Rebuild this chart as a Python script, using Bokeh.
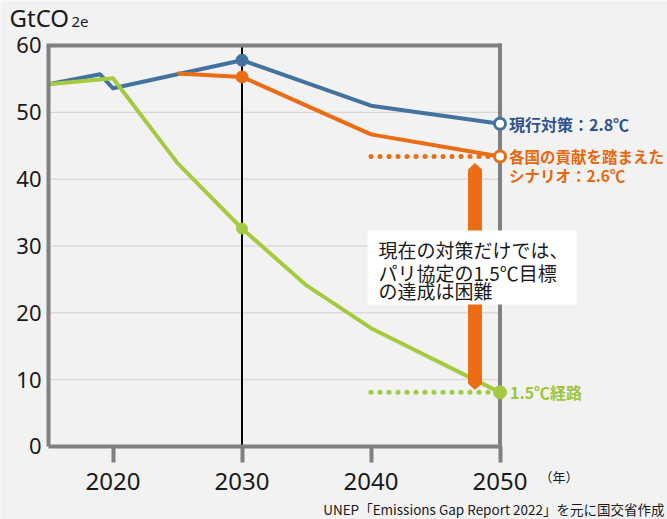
from bokeh.plotting import figure
from bokeh.models import Range1d, FixedTicker
from bokeh.core.properties import value
from bokeh.embed import file_html
from bokeh.resources import INLINE

# ---- data (GtCO2e) ----
years_current = [2015, 2019, 2020, 2030, 2040, 2050]
current_policy = [54.2, 55.7, 53.6, 57.8, 51.0, 48.3]
years_ndc = [2025, 2030, 2040, 2050]
ndc_scenario = [55.8, 55.3, 46.7, 43.4]
years_15 = [2015, 2020, 2025, 2030, 2035, 2040, 2050]
path_15 = [54.2, 55.1, 42.4, 32.6, 24.1, 17.7, 8.1]
x_ticks = [2020, 2030, 2040, 2050]
y_ticks = [0, 10, 20, 30, 40, 50, 60]

label_current = "現行対策：2.8℃"
label_ndc = ["各国の貢献を踏まえた", "シナリオ：2.6℃"]
label_15 = "1.5℃経路"
box_lines = ["現在の対策だけでは、", "パリ協定の1.5℃目標", "の達成は困難"]
source_text = "UNEP「Emissions Gap Report 2022」を元に国交省作成"

# ---- styles ----
BLUE = "#43729F"
BLUE_TXT = "#2F5290"
ORANGE = "#EC6C14"
ORANGE_TXT = "#E9680F"
GREEN = "#A4CA42"
GREEN_TXT = "#9DC53A"
GRAY = "#808080"
BG = "#F2F2F2"
INK = "#1a1a1a"
JP = "Noto Sans CJK JP"

X0, X1 = 2015, 2050
Y0, Y1 = 0, 60

p = figure(width=667, height=519,
           x_range=Range1d(2011.279, 2062.984), y_range=Range1d(-10.923, 66.733),
           output_backend="svg", toolbar_location=None,
           min_border_left=0, min_border_right=0, min_border_top=0, min_border_bottom=0)
p.background_fill_color = BG
p.border_fill_color = BG
p.outline_line_color = None
p.xgrid.visible = False
p.ygrid.visible = False

# axes drawn at fixed data locations inside the canvas
p.xaxis.fixed_location = 0
p.xaxis.bounds = (X0, X1)
p.xaxis.ticker = FixedTicker(ticks=x_ticks)
p.xaxis.axis_line_color = GRAY
p.xaxis.axis_line_width = 4
p.xaxis.major_tick_out = 16
p.xaxis.major_tick_in = 0
p.xaxis.major_tick_line_width = 4
p.xaxis.major_tick_line_color = GRAY
p.xaxis.minor_tick_out = 0
p.xaxis.minor_tick_in = 0
p.xaxis.major_label_text_font = "Noto Sans"
p.xaxis.major_label_text_font_size = "24px"
p.xaxis.major_label_text_color = INK
p.xaxis.major_label_standoff = 11

p.yaxis.fixed_location = X0
p.yaxis.bounds = (Y0, Y1)
p.yaxis.ticker = FixedTicker(ticks=y_ticks)
p.yaxis.axis_line_color = GRAY
p.yaxis.axis_line_width = 4
p.yaxis.major_tick_out = 0
p.yaxis.major_tick_in = 0
p.yaxis.minor_tick_out = 0
p.yaxis.minor_tick_in = 0
p.yaxis.major_label_text_font = "Noto Sans"
p.yaxis.major_label_text_font_size = "22px"
p.yaxis.major_label_text_color = INK
p.yaxis.major_label_standoff = 7

# gridlines (only inside the chart box)
gy = y_ticks[1:-1]
p.segment(x0=[X0] * len(gy), x1=[X1] * len(gy), y0=gy, y1=gy, line_color="#D0D0D0", line_width=1)

# 2030 vertical line
p.segment(x0=[2030], x1=[2030], y0=[Y0], y1=[Y1], line_color="black", line_width=2)

# top and right border
p.segment(x0=[X0, X1], x1=[X1, X1], y0=[Y1, Y0], y1=[Y1, Y1], line_color=GRAY, line_width=4,
          line_cap="square")

# dotted reference lines
p.line([2040, 2049.3], [ndc_scenario[-1]] * 2, line_color=ORANGE, line_width=5,
       line_dash="0 9", line_cap="round")
p.line([2040, 2049.3], [path_15[-1]] * 2, line_color=GREEN, line_width=5,
       line_dash="0 9", line_cap="round")

# series
p.line(years_current, current_policy, line_color=BLUE, line_width=4, line_join="round")
p.line(years_ndc, ndc_scenario, line_color=ORANGE, line_width=4, line_join="round")
p.line(years_15, path_15, line_color=GREEN, line_width=4, line_join="round")

# gap arrow
ax, hw = 2048.06, 0.5
a_top, a_top_sh, a_bot_sh, a_bot = 42.35, 41.45, 9.4, 8.55
p.patch([ax - hw, ax, ax + hw, ax + hw, ax, ax - hw],
        [a_top_sh, a_top, a_top_sh, a_bot_sh, a_bot, a_bot_sh],
        fill_color=ORANGE, line_color=ORANGE, line_width=1)

# markers
i30c = years_current.index(2030)
i30n = years_ndc.index(2030)
i30g = years_15.index(2030)
p.scatter([2030], [current_policy[i30c]], size=12, fill_color=BLUE, line_color=BLUE)
p.scatter([2030], [ndc_scenario[i30n]], size=12, fill_color=ORANGE, line_color=ORANGE)
p.scatter([2030], [path_15[i30g]], size=11, fill_color=GREEN, line_color=GREEN)
p.scatter([2050], [current_policy[-1]], size=11, fill_color="white", line_color=BLUE, line_width=3)
p.scatter([2050], [ndc_scenario[-1]], size=11, fill_color="white", line_color=ORANGE, line_width=3)
p.scatter([2050], [path_15[-1]], size=13, fill_color=GREEN, line_color=GREEN)

# text box
p.quad(left=[2039.73], right=[2055.93], top=[32.32], bottom=[21.25],
       fill_color="white", line_color=None)
p.text(x=[2040.58] * 3, y=[29.48, 26.04, 23.3], text=box_lines,
       text_font=value(JP), text_font_size="19px", text_color=INK,
       text_baseline="middle", text_align="left")

# series labels
p.text(x=[2050], y=[current_policy[-1]], text=[label_current], x_offset=9,
       text_font=value(JP), text_font_style="bold", text_font_size="16px",
       text_color=BLUE_TXT, text_baseline="middle")
p.text(x=[2050, 2050], y=[ndc_scenario[-1], ndc_scenario[-1] - 2.85], text=label_ndc, x_offset=9,
       text_font=value(JP), text_font_style="bold", text_font_size="15.5px",
       text_color=ORANGE_TXT, text_baseline="middle")
p.text(x=[2050], y=[path_15[-1]], text=[label_15], x_offset=10,
       text_font=value(JP), text_font_style="bold", text_font_size="16px",
       text_color=GREEN_TXT, text_baseline="middle")

# unit labels and source
p.text(x=[2011.98], y=[64.19], text=["GtCO"], text_font=value("Noto Sans"),
       text_font_size="24px", text_color=INK, text_baseline="middle")
p.text(x=[2016.78], y=[63.5], text=["2e"], text_font=value("Noto Sans"),
       text_font_size="15px", text_color=INK, text_baseline="middle")
p.text(x=[2053.06], y=[-4.49], text=["（年）"], text_font=value(JP),
       text_font_size="13px", text_color=INK, text_baseline="middle")
p.text(x=[2062.75], y=[-9.28], text=[source_text], text_font=value(JP),
       text_font_size="13.5px", text_color=INK, text_baseline="middle", text_align="right")

open("out.html", "w").write(file_html(p, INLINE))
